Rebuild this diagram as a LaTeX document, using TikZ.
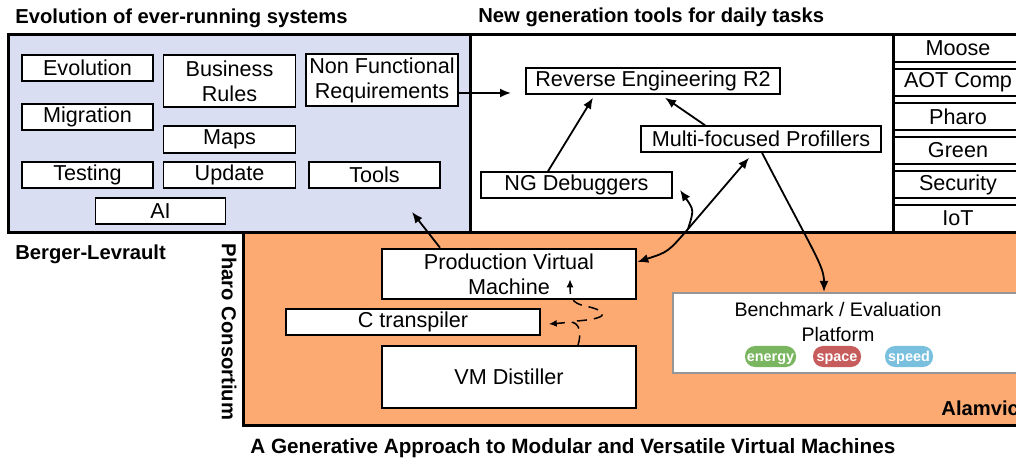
\documentclass[tikz,border=0pt]{standalone}
\usepackage{fontspec}
\setmainfont{Liberation Sans}
\usetikzlibrary{arrows.meta,calc}
\definecolor{bluefill}{RGB}{217,222,242}
\definecolor{orangefill}{RGB}{253,170,114}
\definecolor{pillgreen}{RGB}{122,181,96}
\definecolor{pillred}{RGB}{199,92,92}
\definecolor{pillblue}{RGB}{120,192,222}
\definecolor{benchgray}{RGB}{150,150,150}
\begin{document}
\begin{tikzpicture}[x=0.5pt,y=-0.5pt,
  every node/.style={font=\fontsize{10.8}{12.5}\selectfont},
  sz/.style 2 args={minimum width=#1*0.5pt, minimum height=#2*0.5pt},
  box/.style={draw, fill=white, line width=0.75pt, inner sep=0pt, align=center},
  title/.style={font=\fontsize{10.1}{12}\selectfont\bfseries, inner sep=0pt},
  arr/.style={line width=0.9pt, -{Latex[length=5.5pt,width=4.5pt]}},
  dbl/.style={line width=0.9pt, {Latex[length=5.5pt,width=4.5pt]}-{Latex[length=5.5pt,width=4.5pt]}},
  dsh/.style={line width=0.75pt, dash pattern=on 5pt off 3.5pt, -{Latex[length=4pt,width=3.5pt]}},
  frame/.style={line width=1.5pt},
  row/.style={draw, line width=0.75pt, inner sep=0pt, sz={130}{27}},
  pill/.style={rounded corners=5pt, inner sep=0pt, text=white, text height=5.2pt, text depth=0.6pt, font=\fontsize{7.2}{7}\selectfont\bfseries}
]
\useasboundingbox (0,0) rectangle (1016,459);
\clip (0,0) rectangle (1016,459);

% titles
\node[title, anchor=west] (t1) at (15,18) {Evolution of ever-running systems};
\node[title, anchor=west] (t2) at (478,17) {New generation tools for daily tasks};
\node[title, anchor=west] (t3) at (15,254) {Berger-Levrault};
\node[title, rotate=-90] (t4) at (229,332) {Pharo Consortium};
\node[title, anchor=west, font=\fontsize{10.35}{12}\selectfont\bfseries] (t5) at (250,448) {A Generative Approach to Modular and Versatile Virtual Machines};

% right column rows
\node[row] (moose) at (958,48.5) {Moose};
\node[row] (aot) at (958,82.5) {AOT Comp};
\node[row] (pharo) at (958,116.5) {Pharo};
\node[row] (green) at (958,150.5) {Green};
\node[row] (security) at (958,184.5) {Security};
\node[row] (iot) at (958,218.5) {IoT};

% frames
\draw[frame, fill=bluefill] (8,35) rectangle (470,233);
\draw[frame] (470,35) rectangle (893,233);
\draw[frame] (893,35) -- (1030,35);
\draw[frame, fill=orangefill] (243,233) rectangle (1030,425);
\node[title, anchor=west] (t6) at (941,408.5) {Alamvic};

% blue box nodes
\node[box, sz={131}{26}] (evo) at (87.5,68) {Evolution};
\node[box, sz={131}{26}] (mig) at (87.5,117) {Migration};
\node[box, sz={131}{26}] (testing) at (87.5,175) {Testing};
\node[box, sz={132}{52}] (br) at (229.5,81) {Business\\Rules};
\node[box, sz={132}{27}] (maps) at (229.5,139.5) {Maps};
\node[box, sz={132}{26}] (update) at (229.5,175) {Update};
\node[box, sz={152}{52}] (nfr) at (382,80) {Non Functional\\Requirements};
\node[box, sz={131}{26}] (tools) at (374.5,175) {Tools};
\node[box, sz={130}{26}] (ai) at (160.5,211) {AI};

% white box nodes
\node[box, sz={254}{26}] (re) at (653,81) {Reverse Engineering R2};
\node[box, sz={240}{26}] (mf) at (761,139) {Multi-focused Profillers};
\node[box, sz={191}{26}] (ng) at (576.5,185) {NG Debuggers};

% orange box nodes
\node[box, sz={254}{50}, line width=1.3pt] (pvm) at (509,274) {Production Virtual\\Machine};
\node[box, sz={254}{26}] (ctrans) at (413,322) {C transpiler};
\node[box, sz={254}{62}] (dist) at (509,377) {VM Distiller};
\node[draw=benchgray, fill=white, line width=1pt, inner sep=0pt, sz={357}{80}] (benchbox) at (851.5,333) {};
\node[align=center, inner sep=0pt, font=\fontsize{9.8}{12.5}\selectfont] (bench) at (838,322) {Benchmark / Evaluation\\Platform};
\node[pill, fill=pillgreen, sz={51}{21}] (energy) at (770.5,356.5) {energy};
\node[pill, fill=pillred, sz={48}{21}] (space) at (837,356.5) {space};
\node[pill, fill=pillblue, sz={48}{21}] (speed) at (909,356.5) {speed};

% connectors
\coordinate (reIn) at (511,93);
\draw[arr] (nfr.east |- reIn) -- (reIn);
\draw[arr] ([xshift=-14.25pt]ng.north) -- ([xshift=-30pt,yshift=-1.5pt]re.south);
\draw[arr] ([xshift=-28pt]mf.north) -- ([xshift=6pt,yshift=-1.5pt]re.south);
\coordinate (split) at (688,229);
\draw[dbl] ([yshift=6pt]pvm.east) .. controls (668,252) .. (split) -- ([xshift=-6pt,yshift=-2.5pt]mf.south);
\coordinate (ngIn) at (680,190);
\draw[arr] (split) .. controls (694,210) .. (ngIn);
\coordinate (blueIn) at (412,212);
\draw[arr] ([xshift=-34.5pt]pvm.north) -- (blueIn);
\draw[arr] ([xshift=0.5pt]mf.south) .. controls (815,255) and (824,266) .. ([xshift=-13.75pt]benchbox.north);

% dashed connectors
\draw[dsh] ([xshift=34.5pt]dist.north) .. controls (582,332) and (579,322) .. (570,322) .. controls (562,323) .. ([xshift=4pt,yshift=-1pt]ctrans.east);
\draw[dsh] (577,321) .. controls (615,318) and (605,310) .. (585,306) .. controls (572,303) and (570,298) .. ([xshift=30.5pt,yshift=10.5pt]pvm.south);
\end{tikzpicture}
\end{document}
